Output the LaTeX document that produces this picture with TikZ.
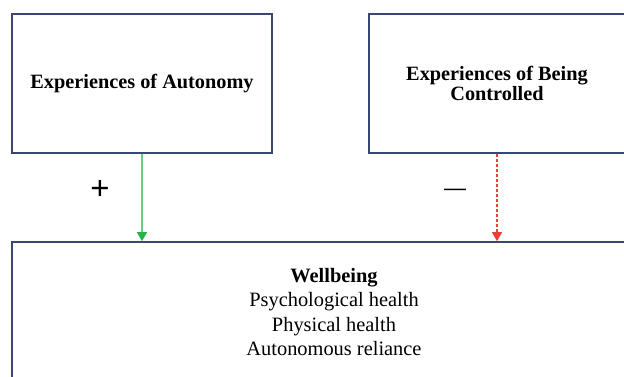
\documentclass[tikz,border=0pt]{standalone}
\usepackage{fontspec}
\setmainfont{Liberation Serif}
\newfontfamily\signfont{Liberation Sans}
\usetikzlibrary{arrows.meta}
\definecolor{boxline}{HTML}{3A4770}
\definecolor{posline}{HTML}{6CCB80}
\definecolor{postip}{HTML}{27B24A}
\definecolor{negline}{HTML}{E8413A}
\begin{document}
\begin{tikzpicture}[x=1pt,y=-1pt,
  factor/.style={draw=boxline, line width=1.6pt, fill=white, align=center,
    font=\fontsize{20.3}{20.5}\selectfont\bfseries, inner sep=0pt},
  outcome/.style={draw=boxline, line width=1.6pt, fill=white, align=center,
    font=\fontsize{20.4}{24.5}\selectfont, inner sep=0pt},
  posarrow/.style={color=posline, line width=1.6pt,
    -{Triangle[width=10pt,length=9pt,color=postip]}},
  negarrow/.style={color=negline, line width=1.4pt, dash pattern=on 3pt off 2pt,
    -{Triangle[width=10pt,length=9pt]}},
  sign/.style={font=\signfont\fontsize{33}{33}\selectfont, inner sep=0pt}]
  \useasboundingbox (0,0) rectangle (624,376);
  \clip (0,0) rectangle (624,376);

  % the two kinds of experience
  \node[factor, minimum width=260pt, minimum height=139pt] (aut) at (142,83.5)
    {Experiences of Autonomy};
  \node[factor, minimum width=256pt, minimum height=139pt] (ctl) at (497,83.5)
    {Experiences of Being\\Controlled};

  % the outcome box
  \node[outcome, minimum width=644pt, minimum height=140pt] (wb) at (334,312)
    {\textbf{Wellbeing}\\Psychological health\\Physical health\\Autonomous reliance};

  % effects
  \draw[posarrow] (aut.south) -- (aut.south |- wb.north);
  \draw[negarrow] (ctl.south) -- (ctl.south |- wb.north);

  \node[sign] (plus) at (100,190) {+};
  \node[sign, font=\signfont\fontsize{22}{22}\selectfont] (minus) at (455,192) {—};
\end{tikzpicture}
\end{document}
